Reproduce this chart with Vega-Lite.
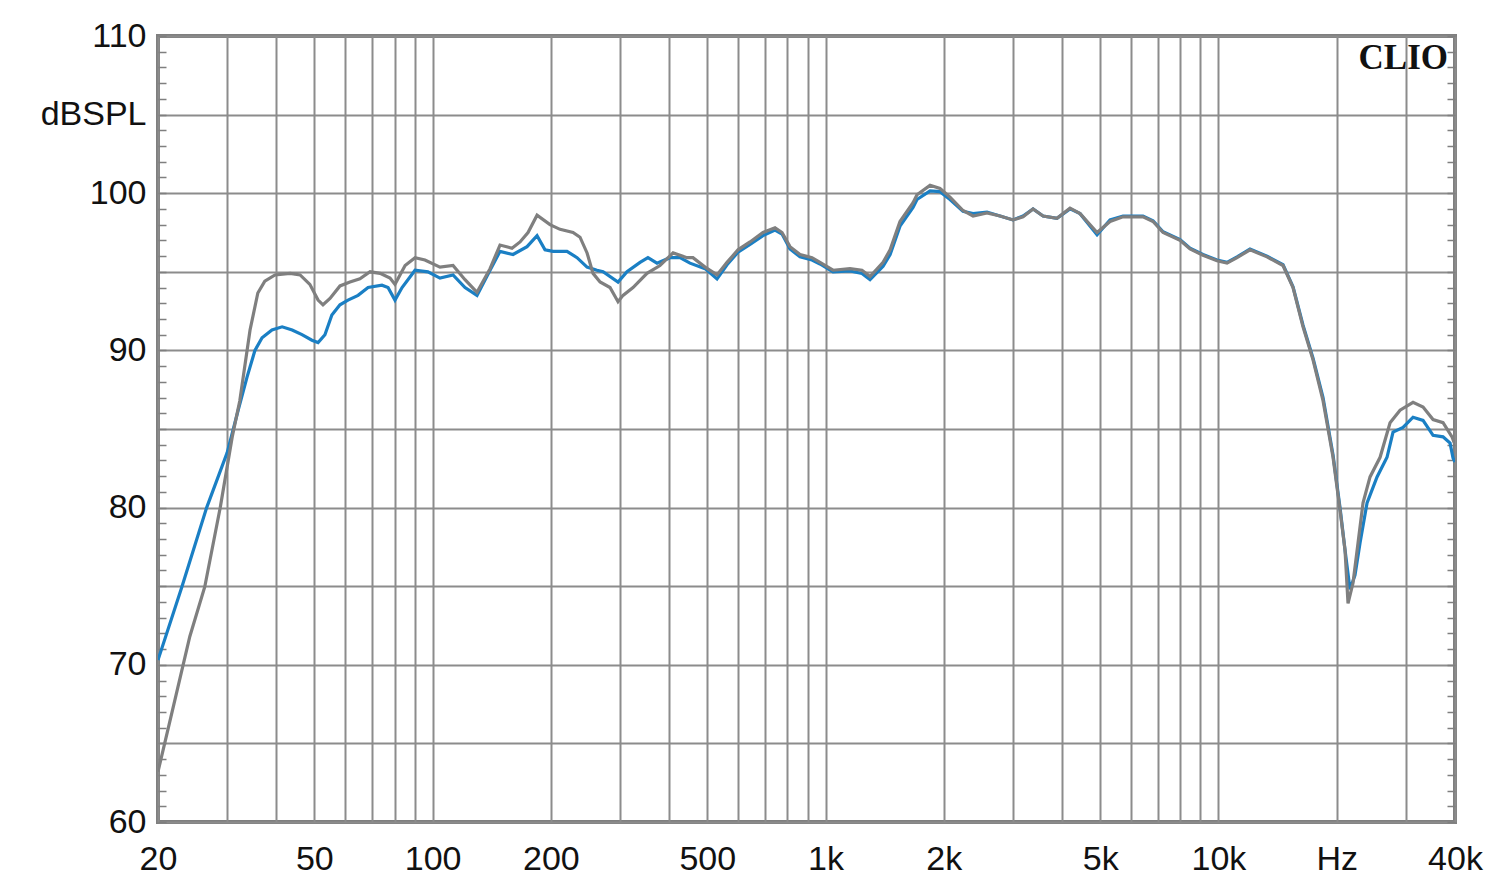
{
  "$schema": "https://vega.github.io/schema/vega-lite/v6.json",
  "width": 1297,
  "height": 786,
  "autosize": "none",
  "padding": {"left": 158, "top": 36, "right": 45, "bottom": 71},
  "background": "white",
  "config": {"view": {"stroke": "#7f7f7f", "strokeWidth": 4}},
  "title": {"text": "CLIO", "anchor": "end", "frame": "group", "orient": "top", "font": "Liberation Serif", "fontSize": 35, "fontWeight": "bold", "color": "#111111", "offset": -31, "baseline": "alphabetic", "dx": -7, "dy": 54},
  "datasets": {
    "blue": [
      {"f": 20, "db": 70.3}, {"f": 23.0, "db": 74.95}, {"f": 26.6, "db": 80.0}, {"f": 30.0, "db": 83.5}, {"f": 32.0, "db": 86.2}, {"f": 33.7, "db": 88.3}, {"f": 35.3, "db": 90.0}, {"f": 36.8, "db": 90.8}, {"f": 39.0, "db": 91.3}, {"f": 41.4, "db": 91.5}, {"f": 43.9, "db": 91.3}, {"f": 46.5, "db": 91.0}, {"f": 49.3, "db": 90.65}, {"f": 51.1, "db": 90.5}, {"f": 53.2, "db": 91.0}, {"f": 55.4, "db": 92.25}, {"f": 58.1, "db": 92.9}, {"f": 60.9, "db": 93.2}, {"f": 64.6, "db": 93.5}, {"f": 68.5, "db": 94.0}, {"f": 74.3, "db": 94.15}, {"f": 77.0, "db": 94.0}, {"f": 80.2, "db": 93.2}, {"f": 83.6, "db": 94.0}, {"f": 90.2, "db": 95.1}, {"f": 97.3, "db": 95.0}, {"f": 104.4, "db": 94.6}, {"f": 112.7, "db": 94.8}, {"f": 120.9, "db": 94.0}, {"f": 129.7, "db": 93.5}, {"f": 140, "db": 95.1}, {"f": 148.4, "db": 96.3}, {"f": 160.2, "db": 96.1}, {"f": 173.9, "db": 96.6}, {"f": 184.4, "db": 97.3}, {"f": 193.2, "db": 96.4}, {"f": 202.5, "db": 96.3}, {"f": 219.8, "db": 96.3}, {"f": 233.1, "db": 95.9}, {"f": 247.2, "db": 95.3}, {"f": 262, "db": 95.1}, {"f": 271.5, "db": 95.0}, {"f": 296.4, "db": 94.35}, {"f": 312.4, "db": 95.0}, {"f": 337.2, "db": 95.6}, {"f": 353.2, "db": 95.9}, {"f": 372.4, "db": 95.55}, {"f": 402, "db": 95.9}, {"f": 426.2, "db": 95.9}, {"f": 451.8, "db": 95.55}, {"f": 493.6, "db": 95.2}, {"f": 529.4, "db": 94.55}, {"f": 561.4, "db": 95.45}, {"f": 598.8, "db": 96.25}, {"f": 642.4, "db": 96.75}, {"f": 693.2, "db": 97.3}, {"f": 743.8, "db": 97.65}, {"f": 775, "db": 97.4}, {"f": 812, "db": 96.45}, {"f": 861, "db": 95.95}, {"f": 923.8, "db": 95.75}, {"f": 968, "db": 95.5}, {"f": 1045, "db": 95.0}, {"f": 1154, "db": 95.05}, {"f": 1238, "db": 94.9}, {"f": 1298, "db": 94.5}, {"f": 1401, "db": 95.35}, {"f": 1460, "db": 96.1}, {"f": 1547, "db": 97.9}, {"f": 1670, "db": 99.1}, {"f": 1709, "db": 99.6}, {"f": 1845, "db": 100.15}, {"f": 1956, "db": 100.1}, {"f": 2074, "db": 99.6}, {"f": 2238, "db": 98.85}, {"f": 2374, "db": 98.7}, {"f": 2576, "db": 98.8}, {"f": 2780, "db": 98.55}, {"f": 3000, "db": 98.3}, {"f": 3182, "db": 98.55}, {"f": 3374, "db": 99.0}, {"f": 3578, "db": 98.55}, {"f": 3882, "db": 98.4}, {"f": 4190, "db": 99.0}, {"f": 4444, "db": 98.7}, {"f": 4910, "db": 97.35}, {"f": 5298, "db": 98.3}, {"f": 5716, "db": 98.55}, {"f": 6428, "db": 98.55}, {"f": 6816, "db": 98.25}, {"f": 7228, "db": 97.55}, {"f": 7984, "db": 97.05}, {"f": 8466, "db": 96.5}, {"f": 9134, "db": 96.1}, {"f": 9918, "db": 95.75}, {"f": 10516, "db": 95.6}, {"f": 11152, "db": 95.95}, {"f": 12032, "db": 96.45}, {"f": 13292, "db": 96.0}, {"f": 14600, "db": 95.45}, {"f": 15482, "db": 94.05}, {"f": 16416, "db": 91.6}, {"f": 17408, "db": 89.5}, {"f": 18458, "db": 87.0}, {"f": 19572, "db": 83.35}, {"f": 20390, "db": 80.0}, {"f": 20996, "db": 77.3}, {"f": 21620, "db": 74.8}, {"f": 22262, "db": 75.7}, {"f": 22926, "db": 77.75}, {"f": 23890, "db": 80.3}, {"f": 25332, "db": 81.95}, {"f": 26856, "db": 83.2}, {"f": 27820, "db": 84.8}, {"f": 29500, "db": 85.1}, {"f": 31280, "db": 85.75}, {"f": 33170, "db": 85.55}, {"f": 35172, "db": 84.6}, {"f": 37290, "db": 84.5}, {"f": 38860, "db": 84.1}, {"f": 39540, "db": 83.15}, {"f": 40000, "db": 82.9}
    ],
    "gray": [
      {"f": 20, "db": 63.2}, {"f": 22.1, "db": 67.8}, {"f": 24.1, "db": 71.8}, {"f": 26.3, "db": 74.95}, {"f": 28.8, "db": 80.0}, {"f": 30.9, "db": 84.5}, {"f": 32.3, "db": 86.8}, {"f": 34.3, "db": 91.3}, {"f": 35.9, "db": 93.65}, {"f": 37.4, "db": 94.4}, {"f": 39.7, "db": 94.8}, {"f": 43.4, "db": 94.9}, {"f": 46.0, "db": 94.8}, {"f": 48.7, "db": 94.2}, {"f": 51.1, "db": 93.2}, {"f": 52.6, "db": 92.9}, {"f": 54.8, "db": 93.3}, {"f": 58.1, "db": 94.1}, {"f": 61.6, "db": 94.35}, {"f": 65.3, "db": 94.55}, {"f": 69.3, "db": 95.0}, {"f": 73.5, "db": 94.9}, {"f": 77.9, "db": 94.6}, {"f": 80.2, "db": 94.2}, {"f": 85.1, "db": 95.4}, {"f": 90.2, "db": 95.9}, {"f": 95.6, "db": 95.75}, {"f": 104.4, "db": 95.3}, {"f": 112.7, "db": 95.4}, {"f": 120.9, "db": 94.5}, {"f": 129.7, "db": 93.7}, {"f": 140, "db": 95.2}, {"f": 148.4, "db": 96.7}, {"f": 159.2, "db": 96.5}, {"f": 166.9, "db": 96.9}, {"f": 174.9, "db": 97.5}, {"f": 184.4, "db": 98.6}, {"f": 198.9, "db": 98.0}, {"f": 211, "db": 97.7}, {"f": 227.7, "db": 97.5}, {"f": 237.2, "db": 97.2}, {"f": 247.2, "db": 96.2}, {"f": 256, "db": 94.9}, {"f": 266.8, "db": 94.35}, {"f": 282.8, "db": 94.0}, {"f": 296.4, "db": 93.1}, {"f": 305.2, "db": 93.5}, {"f": 323.6, "db": 94.0}, {"f": 351.2, "db": 94.9}, {"f": 379, "db": 95.4}, {"f": 409.2, "db": 96.2}, {"f": 444, "db": 95.9}, {"f": 459.8, "db": 95.9}, {"f": 493.6, "db": 95.3}, {"f": 529.4, "db": 94.8}, {"f": 561.4, "db": 95.6}, {"f": 598.8, "db": 96.4}, {"f": 642.4, "db": 96.9}, {"f": 693.2, "db": 97.5}, {"f": 743.8, "db": 97.8}, {"f": 775, "db": 97.5}, {"f": 812, "db": 96.6}, {"f": 861, "db": 96.1}, {"f": 923.8, "db": 95.9}, {"f": 968, "db": 95.6}, {"f": 1045, "db": 95.1}, {"f": 1154, "db": 95.2}, {"f": 1238, "db": 95.1}, {"f": 1298, "db": 94.7}, {"f": 1401, "db": 95.6}, {"f": 1460, "db": 96.4}, {"f": 1547, "db": 98.2}, {"f": 1670, "db": 99.4}, {"f": 1709, "db": 99.9}, {"f": 1845, "db": 100.5}, {"f": 1956, "db": 100.3}, {"f": 2074, "db": 99.75}, {"f": 2238, "db": 98.9}, {"f": 2374, "db": 98.55}, {"f": 2576, "db": 98.75}, {"f": 2780, "db": 98.55}, {"f": 3000, "db": 98.3}, {"f": 3182, "db": 98.5}, {"f": 3374, "db": 99.0}, {"f": 3578, "db": 98.55}, {"f": 3882, "db": 98.4}, {"f": 4190, "db": 99.05}, {"f": 4444, "db": 98.7}, {"f": 4910, "db": 97.5}, {"f": 5298, "db": 98.2}, {"f": 5716, "db": 98.5}, {"f": 6428, "db": 98.5}, {"f": 6816, "db": 98.2}, {"f": 7228, "db": 97.5}, {"f": 7984, "db": 97.0}, {"f": 8466, "db": 96.45}, {"f": 9134, "db": 96.05}, {"f": 9918, "db": 95.7}, {"f": 10516, "db": 95.55}, {"f": 11152, "db": 95.9}, {"f": 12032, "db": 96.4}, {"f": 13292, "db": 95.95}, {"f": 14600, "db": 95.4}, {"f": 15482, "db": 94.0}, {"f": 16416, "db": 91.5}, {"f": 17408, "db": 89.4}, {"f": 18458, "db": 86.8}, {"f": 19572, "db": 83.2}, {"f": 20390, "db": 79.85}, {"f": 20996, "db": 77.3}, {"f": 21370, "db": 73.9}, {"f": 22002, "db": 75.2}, {"f": 22660, "db": 77.75}, {"f": 23334, "db": 80.3}, {"f": 24312, "db": 81.95}, {"f": 25788, "db": 83.2}, {"f": 27338, "db": 85.4}, {"f": 28990, "db": 86.2}, {"f": 31280, "db": 86.7}, {"f": 33170, "db": 86.4}, {"f": 35172, "db": 85.6}, {"f": 37290, "db": 85.4}, {"f": 39308, "db": 84.5}, {"f": 40000, "db": 84.0}
    ]
  },
  "encoding": {
    "x": {
      "field": "f", "type": "quantitative",
      "scale": {"type": "log", "domain": [20, 40000], "nice": false},
      "axis": {
        "title": null,
        "values": [20, 30, 40, 50, 60, 70, 80, 90, 100, 200, 300, 400, 500, 600, 700, 800, 900, 1000, 2000, 3000, 4000, 5000, 6000, 7000, 8000, 9000, 10000, 20000, 30000, 40000],
        "grid": true, "gridColor": "#8c8c8c", "gridWidth": 2,
        "ticks": false, "domain": false,
        "labelExpr": "datum.value==20?'20':datum.value==50?'50':datum.value==100?'100':datum.value==200?'200':datum.value==500?'500':datum.value==1000?'1k':datum.value==2000?'2k':datum.value==5000?'5k':datum.value==10000?'10k':datum.value==20000?'Hz':datum.value==40000?'40k':''",
        "labelFont": "Liberation Sans", "labelFontSize": 34, "labelColor": "#111111",
        "labelPadding": 20, "labelFlush": false, "labelOverlap": false, "labelBound": false
      }
    }
  },
  "layer": [
    {
      "data": {"name": "blue"},
      "mark": {"type": "line", "color": "#1a7fc4", "strokeWidth": 3.2, "clip": true},
      "encoding": {
        "y": {
          "field": "db", "type": "quantitative",
          "scale": {"domain": [60, 110], "nice": false, "zero": false},
          "axis": {
            "title": null,
            "values": [60, 61, 62, 63, 64, 65, 66, 67, 68, 69, 70, 71, 72, 73, 74, 75, 76, 77, 78, 79, 80, 81, 82, 83, 84, 85, 86, 87, 88, 89, 90, 91, 92, 93, 94, 95, 96, 97, 98, 99, 100, 101, 102, 103, 104, 105, 106, 107, 108, 109, 110],
            "grid": true, "gridColor": "#8c8c8c", "gridWidth": 2,
            "gridOpacity": {"condition": {"test": "datum.value % 5 === 0", "value": 1}, "value": 0},
            "ticks": true, "tickSize": -8, "tickColor": "#7f7f7f", "tickWidth": 1.5,
            "domain": false,
            "labelExpr": "datum.value==105?'dBSPL':(datum.value%10==0?datum.label:'')",
            "labelFont": "Liberation Sans", "labelFontSize": 34, "labelColor": "#111111",
            "labelPadding": 20, "labelFlush": false, "labelOverlap": false, "labelBound": false
          }
        }
      }
    },
    {
      "data": {"name": "gray"},
      "mark": {"type": "line", "color": "#7f7f7f", "strokeWidth": 3.2, "clip": true},
      "encoding": {
        "y": {
          "field": "db", "type": "quantitative",
          "scale": {"domain": [60, 110], "nice": false, "zero": false},
          "axis": {
            "orient": "right", "title": null,
            "values": [60, 61, 62, 63, 64, 65, 66, 67, 68, 69, 70, 71, 72, 73, 74, 75, 76, 77, 78, 79, 80, 81, 82, 83, 84, 85, 86, 87, 88, 89, 90, 91, 92, 93, 94, 95, 96, 97, 98, 99, 100, 101, 102, 103, 104, 105, 106, 107, 108, 109, 110],
            "grid": false, "labels": false, "domain": false,
            "ticks": true, "tickSize": -8, "tickColor": "#7f7f7f", "tickWidth": 1.5
          }
        }
      }
    }
  ],
  "resolve": {"axis": {"y": "independent"}}
}
